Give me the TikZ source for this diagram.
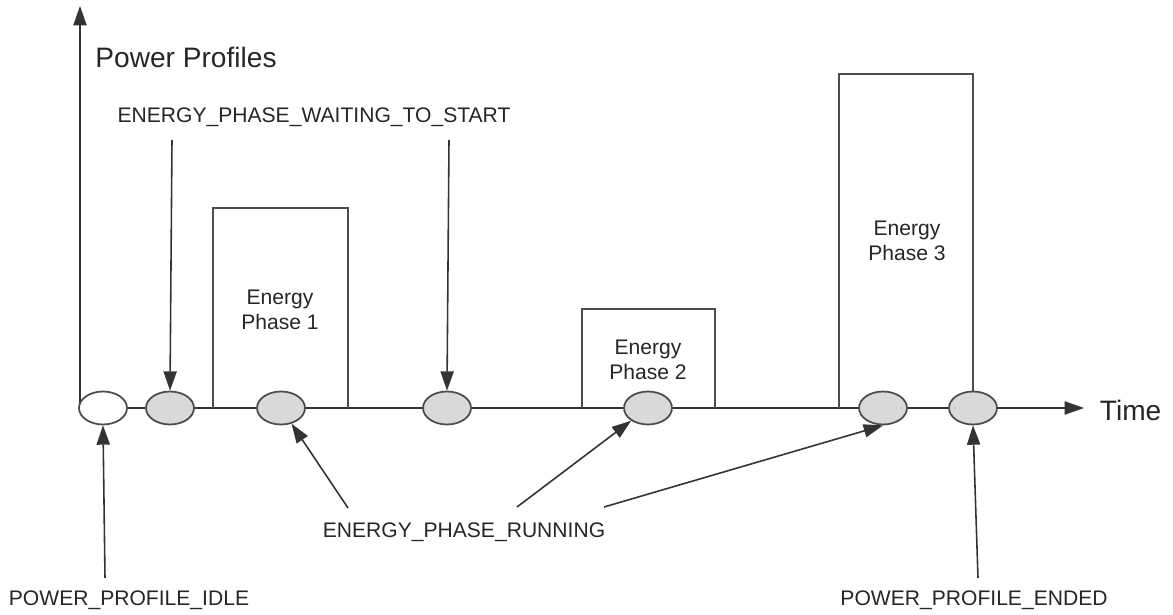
\documentclass[tikz,border=0pt]{standalone}
\usepackage{fontspec}
\setmainfont{Liberation Sans}
\usetikzlibrary{arrows.meta,shapes.geometric}
\tikzset{
  state/.style={ellipse, draw=black!70, fill=black!15, line width=1pt,
    minimum width=0.96cm, minimum height=0.66cm, inner sep=0pt},
  idlestate/.style={state, fill=white},
  lbl/.style={font=\fontsize{12}{14.4}\selectfont, text=black!85, inner sep=0pt, align=center},
  biglbl/.style={font=\fontsize{16}{19}\selectfont, text=black!85, inner sep=0pt},
  pointer/.style={-{Triangle[length=11pt,width=7.5pt]}, draw=black!80, line width=0.9pt},
}
\begin{document}
\begin{tikzpicture}[x=0.02cm, y=-0.02cm, line width=1pt, draw=black!70]
  \useasboundingbox (0,0) rectangle (1173,615);
  %assi
  \coordinate (yfoot) at (80,408);
  \coordinate (ytip) at (80,6);
  \coordinate (xfoot) at (103,408);
  \coordinate (xtip) at (1084,408);
  \draw[pointer] (yfoot) -- (ytip);
  \draw[pointer] (xfoot) -- (xtip);
  \node[biglbl] (pp) at (186,57) {Power Profiles};
  \node[biglbl, anchor=west] (time) at (1099,410) {Time};
  %fasi
  \draw (213,408) -- (213,208) -- (348,208) -- (348,408);
  \draw (582,408) -- (582,309) -- (715,309) -- (715,408);
  \draw (839,408) -- (839,74) -- (973,74) -- (973,408);
  \node[lbl] (ph1) at (280,310) {Energy\\Phase 1};
  \node[lbl] (ph2) at (648,360) {Energy\\Phase 2};
  \node[lbl] (ph3) at (907,241) {Energy\\Phase 3};
  %stati
  \node[idlestate] (e1) at (103,408) {};
  \foreach \n/\x in {2/170,3/281,4/447,5/648,6/883,7/973}
    \node[state] (e\n) at (\x,408) {};
  %etichette
  \node[lbl] (wait) at (314,117) {ENERGY\_PHASE\_WAITING\_TO\_START};
  \node[lbl] (run) at (464,532) {ENERGY\_PHASE\_RUNNING};
  \node[lbl] (idle) at (129,600) {POWER\_PROFILE\_IDLE};
  \node[lbl] (ended) at (974,600) {POWER\_PROFILE\_ENDED};
  \coordinate (w1) at (172,140);
  \coordinate (w2) at (449,140);
  \coordinate (r1) at (348,508);
  \coordinate (r2) at (517,507);
  \coordinate (r3) at (604,507);
  \coordinate (i1) at (105,578);
  \coordinate (n1) at (978,578);
  %frecce
  \draw[pointer] (w1) -- (e2.north);
  \draw[pointer] (w2) -- (e4.north);
  \draw[pointer] (r1) -- (e3);
  \draw[pointer] (r2) -- (e5);
  \draw[pointer] (r3) -- (e6.south);
  \draw[pointer] (i1) -- (e1.south);
  \draw[pointer] (n1) -- (e7.south);
\end{tikzpicture}
\end{document}
